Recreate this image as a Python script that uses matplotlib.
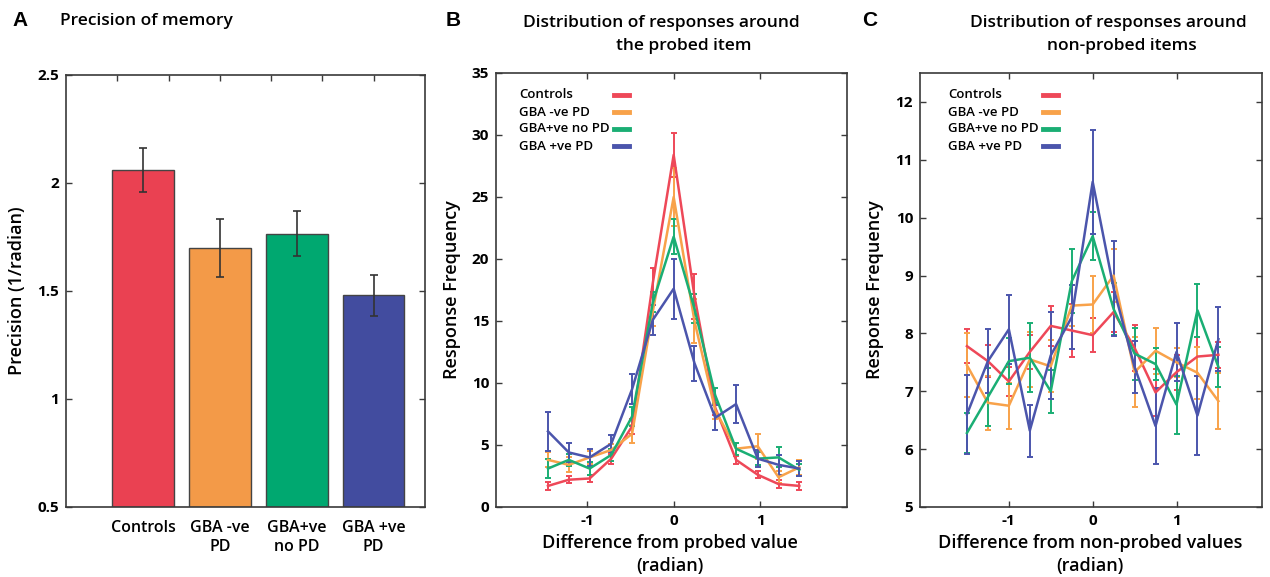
import matplotlib
matplotlib.use("Agg")
import matplotlib.pyplot as plt
import numpy as np

plt.rcParams['font.family'] = ['Open Sans', 'DejaVu Sans']

# ---------------- data ----------------
groups = ["Controls", "GBA -ve PD", "GBA+ve no PD", "GBA +ve PD"]
bar_labels = ["Controls", "GBA -ve\nPD", "GBA+ve\nno PD", "GBA +ve\nPD"]
bar_pos = [1.5, 3.0, 4.5, 6.0]
precision = [2.06, 1.70, 1.765, 1.48]
precision_err = [0.10, 0.135, 0.105, 0.095]

bar_colors = ["#EA4152", "#F39A48", "#00A870", "#424C9F"]
line_colors = ["#EE4858", "#F8A24A", "#1AAE74", "#4B55AC"]

x_probed = [-1.45, -1.21, -0.97, -0.72, -0.48, -0.24, 0.0, 0.24, 0.48, 0.72, 0.97, 1.21, 1.45]
probed_ctrl = [1.7, 2.2, 2.3, 3.9, 6.5, 18.1, 28.4, 17.0, 8.0, 3.8, 2.6, 1.85, 1.7]
probed_ctrl_err = [0.3, 0.3, 0.3, 0.4, 0.6, 1.2, 1.8, 1.8, 0.6, 0.3, 0.3, 0.3, 0.3]
probed_neg = [3.8, 3.4, 4.0, 4.6, 5.9, 15.8, 25.0, 15.0, 7.8, 4.7, 4.9, 2.4, 3.2]
probed_neg_err = [0.6, 0.6, 0.5, 0.5, 0.7, 1.2, 2.3, 1.8, 0.7, 0.5, 1.0, 0.5, 0.6]
probed_nopd = [3.1, 3.8, 3.1, 4.2, 7.3, 16.5, 21.8, 16.0, 9.0, 4.7, 3.9, 4.0, 3.0]
probed_nopd_err = [0.8, 0.5, 0.5, 0.5, 0.8, 0.8, 1.4, 1.2, 0.6, 0.5, 0.5, 0.8, 0.5]
probed_pos = [6.1, 4.4, 4.0, 5.1, 9.5, 15.1, 17.6, 11.6, 7.2, 8.3, 3.9, 3.4, 3.1]
probed_pos_err = [1.6, 0.8, 0.7, 0.7, 1.2, 1.2, 2.4, 1.4, 1.0, 1.5, 0.7, 0.8, 0.6]

x_nonprobed = [-1.5, -1.25, -1.0, -0.75, -0.5, -0.25, 0.0, 0.25, 0.5, 0.75, 1.0, 1.25, 1.5]
non_ctrl = [7.78, 7.52, 7.17, 7.68, 8.13, 8.05, 7.97, 8.37, 7.75, 6.98, 7.33, 7.60, 7.63]
non_ctrl_err = [0.30, 0.28, 0.25, 0.30, 0.35, 0.45, 0.30, 0.35, 0.40, 0.40, 0.30, 0.33, 0.22]
non_neg = [7.45, 6.80, 6.75, 7.55, 7.43, 8.48, 8.50, 9.00, 7.33, 7.70, 7.50, 7.32, 6.83]
non_neg_err = [0.55, 0.47, 0.40, 0.47, 0.45, 0.35, 0.50, 0.45, 0.60, 0.40, 0.25, 0.45, 0.48]
non_nopd = [6.28, 6.90, 7.52, 7.58, 7.00, 8.90, 9.68, 8.42, 7.65, 7.47, 6.77, 8.40, 7.42]
non_nopd_err = [0.35, 0.50, 0.40, 0.60, 0.37, 0.55, 0.42, 0.45, 0.45, 0.28, 0.50, 0.46, 0.35]
non_pos = [6.60, 7.52, 8.07, 6.32, 7.62, 8.28, 10.62, 8.78, 7.42, 6.40, 7.68, 6.58, 7.90]
non_pos_err = [0.68, 0.55, 0.60, 0.45, 0.75, 0.55, 0.90, 0.82, 0.45, 0.65, 0.50, 0.68, 0.55]

probed_series = [(probed_ctrl, probed_ctrl_err), (probed_neg, probed_neg_err),
                 (probed_nopd, probed_nopd_err), (probed_pos, probed_pos_err)]
non_series = [(non_ctrl, non_ctrl_err), (non_neg, non_neg_err),
              (non_nopd, non_nopd_err), (non_pos, non_pos_err)]

# ---------------- figure ----------------
W, H = 1270, 577
fig = plt.figure(figsize=(W / 100, H / 100), dpi=100)

def ax_rect(l, r, t, b):
    return [l / W, 1 - b / H, (r - l) / W, (b - t) / H]

spine_col = "#3a3a3a"
tick_kw = dict(direction='in', length=4, width=1.0, color=spine_col,
               labelsize=11, pad=5)

def style_axes(ax):
    for s in ax.spines.values():
        s.set_color(spine_col)
        s.set_linewidth(1.2)
    ax.tick_params(axis='both', which='both', top=True, right=True, **tick_kw)
    for lab in ax.get_xticklabels() + ax.get_yticklabels():
        lab.set_fontweight('bold')

# ---- Panel A ----
axA = fig.add_axes(ax_rect(66, 425, 75, 507))
axA.bar(bar_pos, [p - 0.5 for p in precision], bottom=0.5, width=1.2,
        color=bar_colors, edgecolor="#444444", linewidth=1.0, zorder=2)
axA.errorbar(bar_pos, precision, yerr=precision_err, fmt='none',
             ecolor="#333333", elinewidth=1.2, capsize=3, capthick=1.2, zorder=3)
axA.set_xlim(0, 7)
axA.set_ylim(0.5, 2.5)
axA.set_yticks([0.5, 1, 1.5, 2, 2.5])
axA.set_yticklabels(["0.5", "1", "1.5", "2", "2.5"])
style_axes(axA)
axA.set_xticks([1, 2, 3, 4, 5, 6])
axA.tick_params(axis='x', bottom=False, labelbottom=False, top=True)
for p, lab in zip(bar_pos, bar_labels):
    axA.text(p, -0.03, lab, transform=axA.get_xaxis_transform(), ha='center',
             va='top', fontsize=11.5, fontweight='semibold', linespacing=1.25)
axA.set_ylabel("Precision (1/radian)", fontsize=13, fontweight='semibold', labelpad=8)

# ---- line panels ----
def line_panel(rect, xs, series, ylim, yticks, leg_text_x, leg_line_x):
    ax = fig.add_axes(rect)
    for (vals, errs), c, g in zip(series, line_colors, groups):
        ax.errorbar(xs, vals, yerr=errs, color=c, lw=1.8, elinewidth=1.4,
                    capsize=2.5, capthick=1.4, label=g)
    ax.set_ylim(*ylim)
    ax.set_yticks(yticks)
    ax.set_xticks([-1, 0, 1])
    ax.set_xticklabels(["-1", "0", "1"])
    style_axes(ax)
    # manual legend (text first, then a short colour stroke)
    for i, (g, c) in enumerate(zip(groups, line_colors)):
        yy = 1 - (95 + 17 * i) / H
        fig.text(leg_text_x / W, yy, g, ha='left', va='center',
                 fontsize=9.5, fontweight='semibold')
        fig.add_artist(plt.Line2D([leg_line_x[0] / W, leg_line_x[1] / W], [yy, yy],
                                  color=c, lw=3.5, transform=fig.transFigure))
    ax.set_ylabel("Response Frequency", fontsize=13, fontweight='semibold', labelpad=8)
    return ax

axB = line_panel(ax_rect(496, 847, 73, 507), x_probed, probed_series, (0, 35),
                 [0, 5, 10, 15, 20, 25, 30, 35], 519, (614, 629))
axB.set_xlim(-2.05, 2.0)
axC = line_panel(ax_rect(920, 1262, 73, 507), x_nonprobed, non_series, (5, 12.5),
                 [5, 6, 7, 8, 9, 10, 11, 12], 948, (1043, 1058))
axC.set_xlim(-2.06, 2.02)

# x labels
for cx, t in [(670, "Difference from probed value"), (1090, "Difference from non-probed values")]:
    fig.text(cx / W, 1 - 543 / H, t, ha='center', va='center', fontsize=13, fontweight='semibold')
    fig.text(cx / W, 1 - 566 / H, "(radian)", ha='center', va='center', fontsize=13, fontweight='semibold')

# titles and panel letters
letter_kw = dict(ha='left', va='center', fontsize=15, fontweight='bold',
                 family=['Liberation Sans', 'DejaVu Sans'])
fig.text(12 / W, 1 - 20 / H, "A", **letter_kw)
fig.text(446 / W, 1 - 20 / H, "B", **letter_kw)
fig.text(862 / W, 1 - 20 / H, "C", **letter_kw)

title_kw = dict(va='center', fontsize=12.5, fontweight='semibold')
fig.text(60 / W, 1 - 21 / H, "Precision of memory", ha='left', **title_kw)
fig.text(661 / W, 1 - 23 / H, "Distribution of responses around", ha='center', **title_kw)
fig.text(684 / W, 1 - 46 / H, "the probed item", ha='center', **title_kw)
fig.text(1108 / W, 1 - 23 / H, "Distribution of responses around", ha='center', **title_kw)
fig.text(1122 / W, 1 - 46 / H, "non-probed items", ha='center', **title_kw)

fig.savefig("out.png", dpi=100)
